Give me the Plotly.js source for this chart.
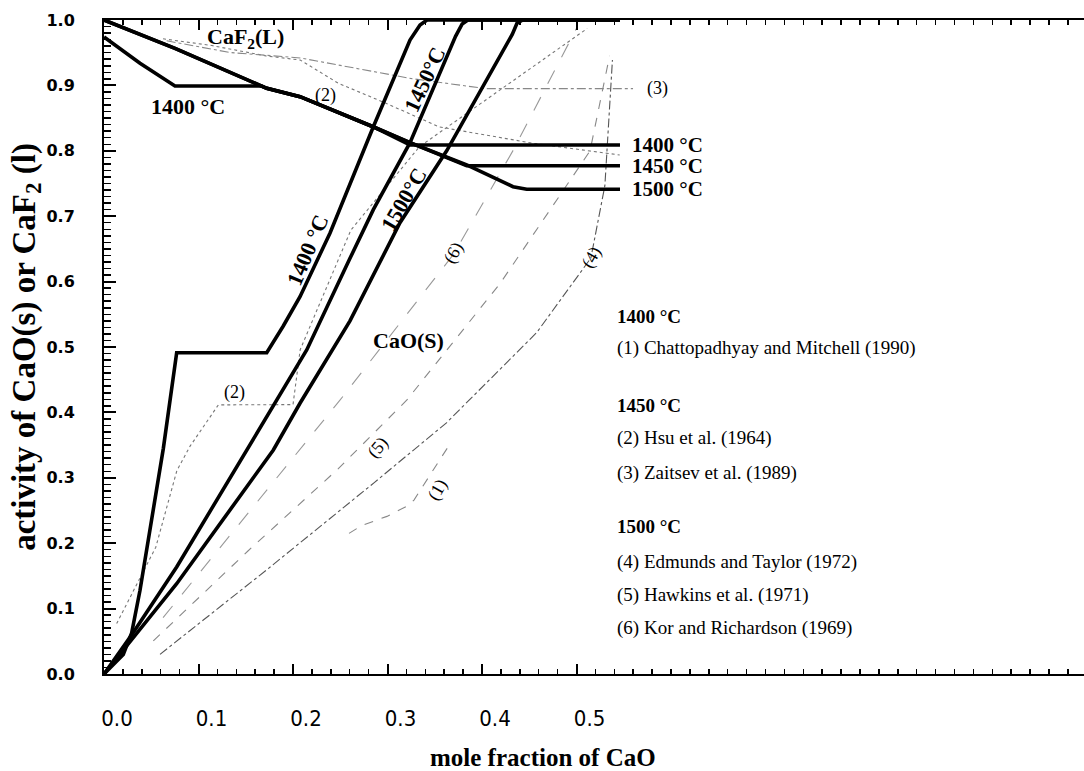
<!DOCTYPE html>
<html>
<head>
<meta charset="utf-8">
<script src="https://cdn.plot.ly/plotly-3.0.1.min.js"></script>
<style>html,body{margin:0;padding:0;background:#fff;}</style>
</head>
<body>
<div id="chart" style="width:1084px;height:771px;"></div>
<script>
// ---- Model curves (thick) : activity of CaO(s) ----
const cao1400_x = [0, 0.0204, 0.0293, 0.0381, 0.0628, 0.0769, 0.1722, 0.1897, 0.2074, 0.2392, 0.285, 0.3238, 0.3344, 0.3418, 0.546];
const cao1400_y = [0, 0.030, 0.063, 0.128, 0.345, 0.4913, 0.4913, 0.5321, 0.5769, 0.6743, 0.8368, 0.9694, 0.9924, 1.0, 1.0];
const cao1450_x = [0, 0.031, 0.0769, 0.151, 0.2145, 0.2603, 0.285, 0.3238, 0.372, 0.379, 0.385, 0.546];
const cao1450_y = [0, 0.0633, 0.1636, 0.3425, 0.4954, 0.6356, 0.71, 0.8124, 0.975, 0.994, 1.0, 1.0];
const cao1500_x = [0, 0.0769, 0.1792, 0.2074, 0.2603, 0.3132, 0.3626, 0.432, 0.437, 0.443, 0.546];
const cao1500_y = [0, 0.138, 0.3425, 0.414, 0.54, 0.69, 0.80, 0.978, 0.995, 1.0, 1.0];

// ---- Model curves (thick) : activity of CaF2(l) ----
const caf1400_x = [0, 0.0381, 0.0751, 0.1668, 0.1722, 0.2074, 0.2847, 0.3238, 0.546];
const caf1400_y = [0.974, 0.9338, 0.899, 0.899, 0.8956, 0.8827, 0.8368, 0.8089, 0.8089];
const caf1450_x = [0, 0.0751, 0.1722, 0.2074, 0.2847, 0.3238, 0.3838, 0.546];
const caf1450_y = [1.0, 0.9567, 0.8956, 0.8827, 0.8368, 0.8124, 0.7772, 0.7772];
const caf1500_x = [0, 0.0751, 0.1722, 0.2074, 0.2847, 0.3238, 0.3838, 0.4328, 0.4473, 0.546];
const caf1500_y = [1.0, 0.9567, 0.8956, 0.8827, 0.8368, 0.8124, 0.7783, 0.7451, 0.7411, 0.7411];

// ---- Literature data (thin) ----
const d1_x = [0.2593, 0.2726, 0.2994, 0.3222, 0.328, 0.3662];           // (1) Chattopadhyay & Mitchell
const d1_y = [0.215, 0.227, 0.241, 0.258, 0.266, 0.352];
const d2a_x = [0.0134, 0.0548, 0.0771, 0.0911, 0.1210, 0.2000, 0.2076, 0.2612, 0.3338, 0.5113]; // (2) Hsu, CaO
const d2a_y = [0.0771, 0.1939, 0.3110, 0.3484, 0.4115, 0.4119, 0.4959, 0.6787, 0.8063, 0.987];
const d2b_x = [0.0625, 0.1141, 0.1714, 0.2076, 0.2478, 0.2994, 0.3547, 0.4541, 0.5457]; // (2) Hsu, CaF2
const d2b_y = [0.9713, 0.9609, 0.9451, 0.9388, 0.9034, 0.8720, 0.8365, 0.8115, 0.7936];
const d3_x = [0.0663, 0.1332, 0.2076, 0.3242, 0.4044, 0.5598];           // (3) Zaitsev, CaF2
const d3_y = [0.9682, 0.9503, 0.9420, 0.9107, 0.8950, 0.8950];
const d4_x = [0.0593, 0.1714, 0.286, 0.3624, 0.4579, 0.5152, 0.530, 0.538]; // (4) Edmunds & Taylor
const d4_y = [0.0301, 0.1584, 0.2927, 0.3841, 0.5221, 0.6360, 0.7466, 0.9388];
const d5_x = [0.0522, 0.1523, 0.2477, 0.3203, 0.4192, 0.5143, 0.535];    // (5) Hawkins
const d5_y = [0.0506, 0.1881, 0.3136, 0.4187, 0.5972, 0.7999, 0.9451];
const d6_x = [0.0625, 0.2497, 0.3701, 0.433, 0.4999];                   // (6) Kor & Richardson
const d6_y = [0.0862, 0.4187, 0.6422, 0.8009, 0.987];

const xTickVals = [0, 0.1, 0.2, 0.3, 0.4, 0.5];
const xTickText = ['0.0', '0.1', '0.2', '0.3', '0.4', '0.5'];

function thick(x, y) {
  return {x: x, y: y, type: 'scatter', mode: 'lines', line: {color: '#000', width: 3.6}, hoverinfo: 'skip', showlegend: false};
}
function thin(x, y, dash, color) {
  return {x: x, y: y, type: 'scatter', mode: 'lines', line: {color: color, width: 1.1, dash: dash}, hoverinfo: 'skip', showlegend: false};
}

const traces = [
  thin(d1_x, d1_y, 'dash', '#888'),
  thin(d2a_x, d2a_y, 'dot', '#777'),
  thin(d2b_x, d2b_y, 'dot', '#777'),
  thin(d3_x, d3_y, 'dashdot', '#888'),
  thin(d4_x, d4_y, 'dashdot', '#555'),
  thin(d5_x, d5_y, 'dash', '#888'),
  thin(d6_x, d6_y, 'longdash', '#999'),
  thick(cao1400_x, cao1400_y),
  thick(cao1450_x, cao1450_y),
  thick(cao1500_x, cao1500_y),
  thick(caf1400_x, caf1400_y),
  thick(caf1450_x, caf1450_y),
  thick(caf1500_x, caf1500_y)
];

const serif = 'Liberation Serif, Times New Roman, serif';
const boldF = {family: serif, size: 22, color: '#000', weight: 'bold'};
const sideBold = {family: serif, size: 21, color: '#000', weight: 'bold'};
function lab(text, x, y, opts) {
  return Object.assign({text: text, x: x, y: y, xref: 'x', yref: 'y', showarrow: false,
    font: boldF, xanchor: 'center', yanchor: 'middle'}, opts || {});
}
const normal = {family: serif, size: 18, color: '#000'};
const legendFont = {family: serif, size: 19, color: '#000'};
const legendBold = {family: serif, size: 19, color: '#000', weight: 'bold'};
const LX = 0.5407;

const annotations = [
  lab('CaF<sub>2</sub>(L)', 0.1492, 0.9725),
  lab('1400 °C', 0.0889, 0.867),
  lab('(2)', 0.2349, 0.8853, {font: normal}),
  lab('(3)', 0.5725, 0.896, {font: normal, xanchor: 'left'}),
  lab('1400 °C', 0.5566, 0.8089, {xanchor: 'left', font: sideBold}),
  lab('1450 °C', 0.5566, 0.7772, {xanchor: 'left', font: sideBold}),
  lab('1500 °C', 0.5566, 0.7411, {xanchor: 'left', font: sideBold}),
  lab('1400 °C', 0.2148, 0.6483, {textangle: -67}),
  lab('1450°C', 0.3397, 0.9083, {textangle: -65}),
  lab('1500°C', 0.3175, 0.7248, {textangle: -60}),
  lab('CaO(S)', 0.3217, 0.5107),
  lab('(6)', 0.3693, 0.6437, {font: normal, textangle: -60}),
  lab('(4)', 0.5164, 0.6361, {font: normal, textangle: -60}),
  lab('(5)', 0.2899, 0.3471, {font: normal, textangle: -50}),
  lab('(1)', 0.3524, 0.2813, {font: normal, textangle: -60}),
  lab('(2)', 0.1386, 0.4312, {font: normal}),
  lab('1400 °C', LX, 0.5463, {xanchor: 'left', font: legendBold}),
  lab('(1) Chattopadhyay and Mitchell (1990)', LX, 0.4985, {xanchor: 'left', font: legendFont}),
  lab('1450 °C', LX, 0.4113, {xanchor: 'left', font: legendBold}),
  lab('(2) Hsu et al. (1964)', LX, 0.3609, {xanchor: 'left', font: legendFont}),
  lab('(3) Zaitsev et al. (1989)', LX, 0.3073, {xanchor: 'left', font: legendFont}),
  lab('1500 °C', LX, 0.2248, {xanchor: 'left', font: legendBold}),
  lab('(4) Edmunds and Taylor (1972)', LX, 0.1713, {xanchor: 'left', font: legendFont}),
  lab('(5) Hawkins et al. (1971)', LX, 0.1208, {xanchor: 'left', font: legendFont}),
  lab('(6) Kor and Richardson (1969)', LX, 0.0703, {xanchor: 'left', font: legendFont}),
  {text: 'mole fraction of CaO', xref: 'paper', yref: 'paper', x: 0.448, y: -0.127,
   xanchor: 'center', yanchor: 'middle', showarrow: false,
   font: {family: serif, size: 25, color: '#000', weight: 'bold'}}
];

const layout = {
  width: 1084, height: 771,
  margin: {l: 104, r: 0, t: 20, b: 97},
  paper_bgcolor: '#fff', plot_bgcolor: '#fff',
  showlegend: false,
  xaxis: {
    range: [0, 1.037], tickmode: 'array', tickvals: xTickVals, ticktext: xTickText,
    ticks: 'inside', ticklen: 10, tickwidth: 2, tickcolor: '#000',
    showline: true, linecolor: '#000', linewidth: 2, mirror: 'ticks',
    showgrid: false, zeroline: false,
    minor: {tickmode: 'linear', tick0: 0, dtick: 0.02, ticks: 'inside', ticklen: 5, tickwidth: 1.5, tickcolor: '#000', showgrid: false},
    tickfont: {family: 'Liberation Sans Narrow, DejaVu Sans Condensed, Arial, sans-serif', size: 22, color: '#000'},
    ticklabelstandoff: 24, ticklabelshift: 13
  },
  yaxis: {
    range: [0, 1.0], dtick: 0.1, tick0: 0, tickformat: '.1f',
    ticks: 'inside', ticklen: 12, tickwidth: 2, tickcolor: '#000',
    showline: true, linecolor: '#000', linewidth: 2, mirror: false,
    showgrid: false, zeroline: false,
    minor: {dtick: 0.01, ticks: 'inside', ticklen: 7, tickwidth: 1.5, tickcolor: '#000', showgrid: false},
    tickfont: {family: 'DejaVu Sans, Liberation Sans, sans-serif', size: 16, color: '#000', weight: 'bold'},
    ticklabelstandoff: 24,
    title: {text: 'activity of CaO(s) or CaF<sub>2</sub> (l)', font: {family: serif, size: 33, color: '#000', weight: 'bold'}, standoff: 0}
  },
  annotations: annotations
};

Plotly.newPlot('chart', traces, layout, {displayModeBar: false, staticPlot: true});
</script>
</body>
</html>
